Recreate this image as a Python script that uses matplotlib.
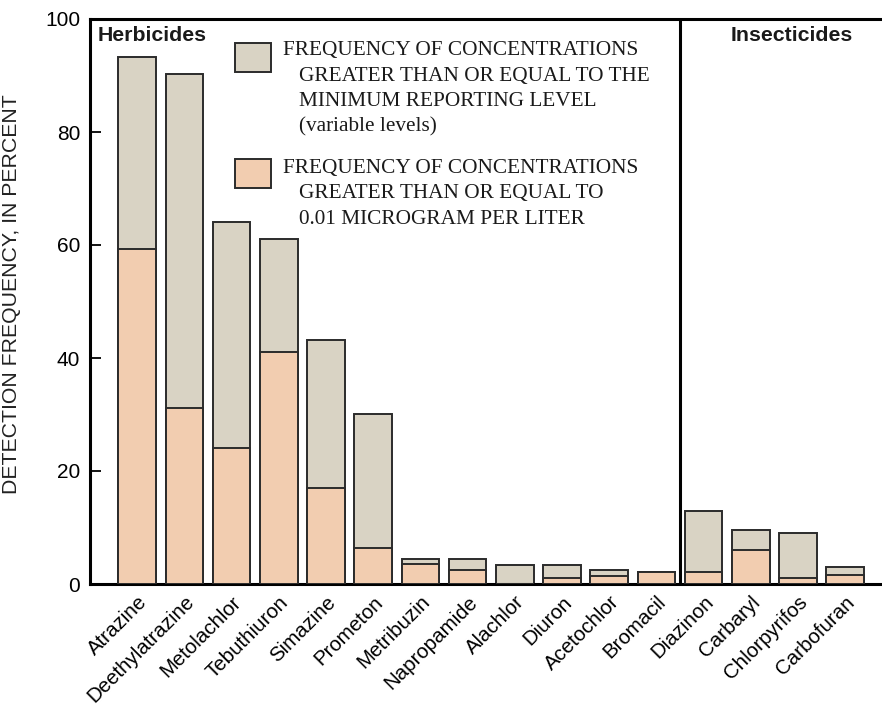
import matplotlib
matplotlib.use("Agg")
import matplotlib.pyplot as plt
from matplotlib.patches import Rectangle

# Pesticide detection frequencies (percent)
compounds = ["Atrazine", "Deethylatrazine", "Metolachlor", "Tebuthiuron", "Simazine",
             "Prometon", "Metribuzin", "Napropamide", "Alachlor", "Diuron",
             "Acetochlor", "Bromacil", "Diazinon", "Carbaryl", "Chlorpyrifos",
             "Carbofuran"]
freq_any_mrl = [93.3, 90.3, 64.1, 61.1, 43.2, 30.1, 4.4, 4.5, 3.4, 3.4,
                2.5, 2.1, 13.0, 9.6, 9.0, 3.0]
freq_ge_001 = [59.3, 31.2, 24.1, 41.1, 17.0, 6.4, 3.5, 2.5, 0.0, 1.0,
               1.5, 2.1, 2.2, 6.0, 1.0, 1.6]
n_herbicides = 12
yticks = [0, 20, 40, 60, 80, 100]

gray = "#d9d3c4"
peach = "#f2cdb0"
edge = "#2b2b2b"
sans = ["Liberation Sans", "DejaVu Sans"]
serif = ["Liberation Serif", "DejaVu Serif"]

W, H = 882, 705
fig = plt.figure(figsize=(W / 100, H / 100), dpi=100)
ax = fig.add_axes([90 / W, (H - 584) / H, (W - 90) / W, (584 - 19) / H])

x = list(range(len(compounds)))
ax.bar(x, freq_any_mrl, width=0.8, color=gray, edgecolor=edge, linewidth=1.4, zorder=2)
ax.bar(x, freq_ge_001, width=0.8, color=peach, edgecolor=edge, linewidth=1.4, zorder=3)

ax.set_xlim(-1.0, len(compounds) - 0.22)
ax.set_ylim(0, 100)
ax.set_yticks(yticks)
ax.set_yticklabels([str(t) for t in yticks], fontsize=15, family=sans)
ax.tick_params(axis="y", direction="in", length=8, width=1.3, pad=7)
ax.set_xticks(x)
ax.set_xticklabels(compounds, rotation=45, ha="right", va="top",
                   rotation_mode="anchor", fontsize=14.8, family=sans)
ax.tick_params(axis="x", length=0, pad=6)

for side in ["left", "top", "bottom"]:
    ax.spines[side].set_linewidth(2.2)
    ax.spines[side].set_color("black")
ax.spines["right"].set_visible(False)

# Divider between herbicides and insecticides
ax.axvline(n_herbicides - 0.5, color="black", linewidth=2.2, zorder=4)

ax.text(0.009, 0.988, "Herbicides", transform=ax.transAxes, ha="left", va="top",
        fontsize=15.3, fontweight="bold", family=sans, color="#1a1a1a")
ax.text((792 - 90) / (W - 90), 0.988, "Insecticides", transform=ax.transAxes,
        ha="center", va="top", fontsize=15.3, fontweight="bold", family=sans,
        color="#1a1a1a")

ax.set_ylabel("DETECTION FREQUENCY, IN PERCENT", fontsize=15.3, family=sans,
              color="#222222")
ax.yaxis.set_label_coords(-(90 - 21) / (W - 90), (584 - 294) / (584 - 19))

# Legend built from patches and text in figure pixel space
def fx(px):
    return px / W

def fy(py):
    return 1 - py / H

for top, color in [(43, gray), (159, peach)]:
    fig.patches.append(Rectangle((fx(235), fy(top + 29)), 36 / W, 29 / H,
                                 transform=fig.transFigure, facecolor=color,
                                 edgecolor=edge, linewidth=1.4))

legend_lines = [
    (283, 51, "FREQUENCY OF CONCENTRATIONS"),
    (299, 76, "GREATER THAN OR EQUAL TO THE"),
    (299, 101, "MINIMUM REPORTING LEVEL"),
    (299, 127, "(variable levels)"),
    (283, 169, "FREQUENCY OF CONCENTRATIONS"),
    (299, 194, "GREATER THAN OR EQUAL TO"),
    (299, 219, "0.01 MICROGRAM PER LITER"),
]
for px, py, s in legend_lines:
    fig.text(fx(px), fy(py), s, ha="left", va="center", fontsize=15.3,
             family=serif, color="#1a1a1a")

fig.savefig("out.png", dpi=100)
